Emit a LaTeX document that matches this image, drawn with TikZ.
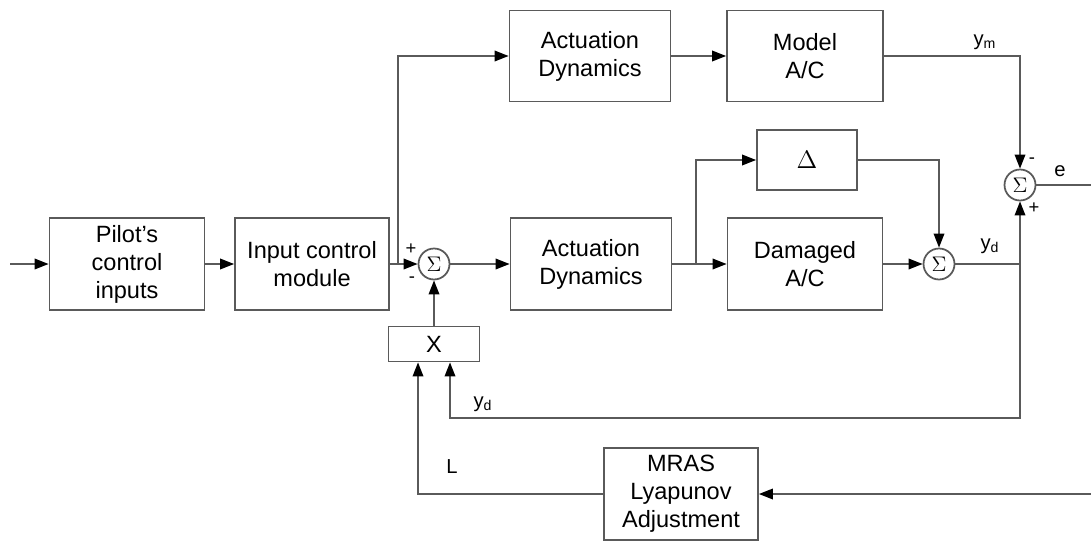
\documentclass[tikz,border=0pt]{standalone}
\usepackage{fontspec}
\setmainfont{Liberation Sans}
\usetikzlibrary{arrows.meta}
\definecolor{linegray}{RGB}{90,90,90}

\begin{document}
\begin{tikzpicture}[x=0.02cm, y=-0.02cm,
  blk/.style={draw=linegray, line width=1pt, align=center, inner sep=0pt, font=\fontsize{13.4}{15.9}\selectfont},
  sumnode/.style={draw=linegray, circle, line width=1pt, minimum size=0.62cm, inner sep=0pt, font=\fontsize{12}{12}\selectfont},
  sig/.style={draw=linegray, line width=1pt},
  arr/.style={sig, -{Triangle[length=8pt, width=6pt, color=black]}},
  lbl/.style={font=\fontsize{11.5}{13}\selectfont},
  sgn/.style={font=\fontsize{10.5}{11}\selectfont, inner sep=1pt}]
\useasboundingbox (0,0) rectangle (1091,541);

\node[blk, minimum width=3.1cm, minimum height=1.84cm] (pilot) at (127,264) {Pilot’s\\control\\inputs};
\node[blk, minimum width=3.08cm, minimum height=1.84cm] (icm) at (312,264) {Input control\\module};
\node[sumnode] (sumin) at (434,264) {$\Sigma$};
\node[blk, minimum width=3.22cm, minimum height=1.82cm] (actA) at (590,56) {Actuation\\Dynamics};
\node[blk, minimum width=3.12cm, minimum height=1.82cm] (model) at (805,56) {Model\\A/C};
\node[blk, minimum width=3.22cm, minimum height=1.84cm] (actB) at (591,264) {Actuation\\Dynamics};
\node[blk, minimum width=2cm, minimum height=1.2cm] (delta) at (807,160) {$\Delta$};
\node[blk, minimum width=3.1cm, minimum height=1.84cm] (dmg) at (805,264) {Damaged\\A/C};
\node[sumnode] (sumd) at (939,264) {$\Sigma$};
\node[sumnode] (sume) at (1020,185) {$\Sigma$};
\node[blk, minimum width=1.82cm, minimum height=0.7cm] (mult) at (434,344) {X};
\node[blk, minimum width=3.08cm, minimum height=1.84cm] (mras) at (681,494) {MRAS\\Lyapunov\\Adjustment};

\coordinate (in) at (10,264);
\coordinate (br1) at (398,264);
\coordinate (br2) at (696,264);
\coordinate (out) at (1091,185);
\coordinate (fb) at (1020,418);
\coordinate (mrasin) at (1091,494);

\draw[arr] (in) -- (pilot);
\draw[arr] (pilot) -- (icm);
\draw[arr] (icm) -- (sumin);
\draw[arr] (br1) |- (actA);
\draw[arr] (actA) -- (model);
\draw[arr] (model) -| (sume);
\draw[arr] (sumin) -- (actB);
\draw[arr] (actB) -- (dmg);
\draw[arr] (br2) |- (delta);
\draw[arr] (delta) -| (sumd);
\draw[arr] (dmg) -- (sumd);
\draw[arr] (sumd) -| (sume);
\draw[sig] (sume) -- (out);
\draw[arr] (sume |- sumd) -- (fb) -| ([xshift=0.32cm]mult.south);
\draw[arr] (mrasin) -- (mras);
\draw[arr] (mras) -| ([xshift=-0.32cm]mult.south);
\draw[arr] (mult) -- (sumin);

\node[lbl] (ym) at (985,42) {y\textsubscript{m}};
\node[lbl] (e) at (1060,171) {e};
\node[lbl] (yd1) at (990,246) {y\textsubscript{d}};
\node[lbl] (yd2) at (483,404) {y\textsubscript{d}};
\node[lbl] (L) at (452,467) {L};
\node[sgn] (pa) at (411,249) {+};
\node[sgn] (ma) at (412,280) {-};
\node[sgn] (mb) at (1032,161) {-};
\node[sgn] (pb) at (1034,208) {+};
\end{tikzpicture}
\end{document}
